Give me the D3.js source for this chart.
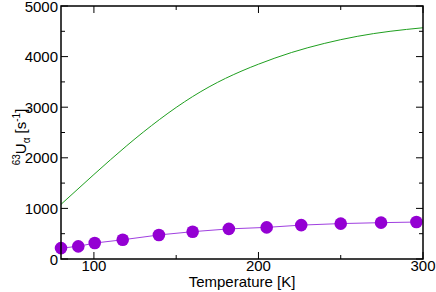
<html lang="en">
<head>
<meta charset="UTF-8">
<title>63U alpha vs temperature</title>
<script src="https://d3js.org/d3.v7.min.js"></script>
<style>
  body { margin: 0; background: #fff; }
  svg { font-family: "Liberation Sans", Arial, Roboto, sans-serif; }
</style>
</head>
<body>
<svg width="436" height="292"></svg>
<script>
// green curve (model)
const curveT = [80, 100, 120, 140, 160, 180, 200, 220, 240, 260, 280, 300];
const curveU = [1080, 1670, 2240, 2760, 3210, 3570, 3850, 4080, 4260, 4400, 4500, 4570];

// purple markers (measured)
const pointT = [80, 90.5, 100.5, 117.5, 139.5, 160, 182, 205, 226, 250, 274.5, 296];
const pointU = [215, 250, 315, 380, 475, 540, 595, 625, 670, 700, 718, 730];

const xTicks = [100, 200, 300];
const yTicks = [0, 1000, 2000, 3000, 4000, 5000];
const xMinor = [150, 250];
const yMinor = [500, 1500, 2500, 3500, 4500];

const margin = {top: 6, right: 13, bottom: 33, left: 61},
      width = 436 - margin.left - margin.right,
      height = 292 - margin.top - margin.bottom;

const svg = d3.select("svg").append("g")
    .attr("transform", `translate(${margin.left},${margin.top})`);

const x = d3.scaleLinear().domain([80, 300]).range([0, width]);
const y = d3.scaleLinear().domain([0, 5000]).range([height, 0]);

function ticks(g, vals, len, horizontal) {
    vals.forEach(v => {
        if (horizontal) {
            g.append("line").attr("x1", x(v)).attr("x2", x(v)).attr("y1", height).attr("y2", height - len);
            g.append("line").attr("x1", x(v)).attr("x2", x(v)).attr("y1", 0).attr("y2", len);
        } else {
            g.append("line").attr("x1", 0).attr("x2", len).attr("y1", y(v)).attr("y2", y(v));
            g.append("line").attr("x1", width).attr("x2", width - len).attr("y1", y(v)).attr("y2", y(v));
        }
    });
}
const tg = svg.append("g").attr("stroke", "#000").attr("stroke-width", 1);
ticks(tg, xTicks, 7, true);
ticks(tg, xMinor, 4, true);
ticks(tg, yTicks, 7, false);
ticks(tg, yMinor, 4, false);

// tick labels
svg.selectAll(".xl").data(xTicks).enter().append("text")
    .attr("x", d => x(d)).attr("y", height + 12)
    .attr("text-anchor", "middle").attr("font-size", 15)
    .text(d => d);
svg.selectAll(".yl").data(yTicks).enter().append("text")
    .attr("x", -3).attr("y", d => y(d) + 5.5)
    .attr("text-anchor", "end").attr("font-size", 15)
    .text(d => d);

// green line
const green = curveT.map((t, i) => [t, curveU[i]]);
svg.append("path").datum(green)
    .attr("fill", "none").attr("stroke", "#1f9f1f").attr("stroke-width", 1)
    .attr("d", d3.line().x(d => x(d[0])).y(d => y(d[1])).curve(d3.curveNatural));

// purple line + markers
const pts = pointT.map((t, i) => [t, pointU[i]]);
svg.append("path").datum(pts)
    .attr("fill", "none").attr("stroke", "#a040e0").attr("stroke-width", 1)
    .attr("d", d3.line().x(d => x(d[0])).y(d => y(d[1])));
svg.selectAll("circle").data(pts).enter().append("circle")
    .attr("cx", d => x(d[0])).attr("cy", d => y(d[1])).attr("r", 6.3)
    .attr("fill", "#9400d3");

// frame
svg.append("rect").attr("width", width).attr("height", height)
    .attr("fill", "none").attr("stroke", "#000").attr("stroke-width", 1.5);

// axis titles
svg.append("text")
    .attr("x", width / 2).attr("y", height + 28)
    .attr("text-anchor", "middle").attr("font-size", 15)
    .text("Temperature [K]");

const yl = svg.append("text")
    .attr("transform", `translate(${26 - margin.left},${137 - margin.top}) rotate(-90)`)
    .attr("text-anchor", "middle").attr("font-size", 15);
yl.append("tspan").attr("font-size", 10).attr("dy", -6).text("63");
yl.append("tspan").attr("dy", 6).text("U");
yl.append("tspan").attr("font-size", 10).attr("dy", 4).text("α");
yl.append("tspan").attr("dy", -4).text(" [s");
yl.append("tspan").attr("font-size", 10).attr("dy", -6).text("-1");
yl.append("tspan").attr("dy", 6).text("]");
</script>
</body>
</html>
